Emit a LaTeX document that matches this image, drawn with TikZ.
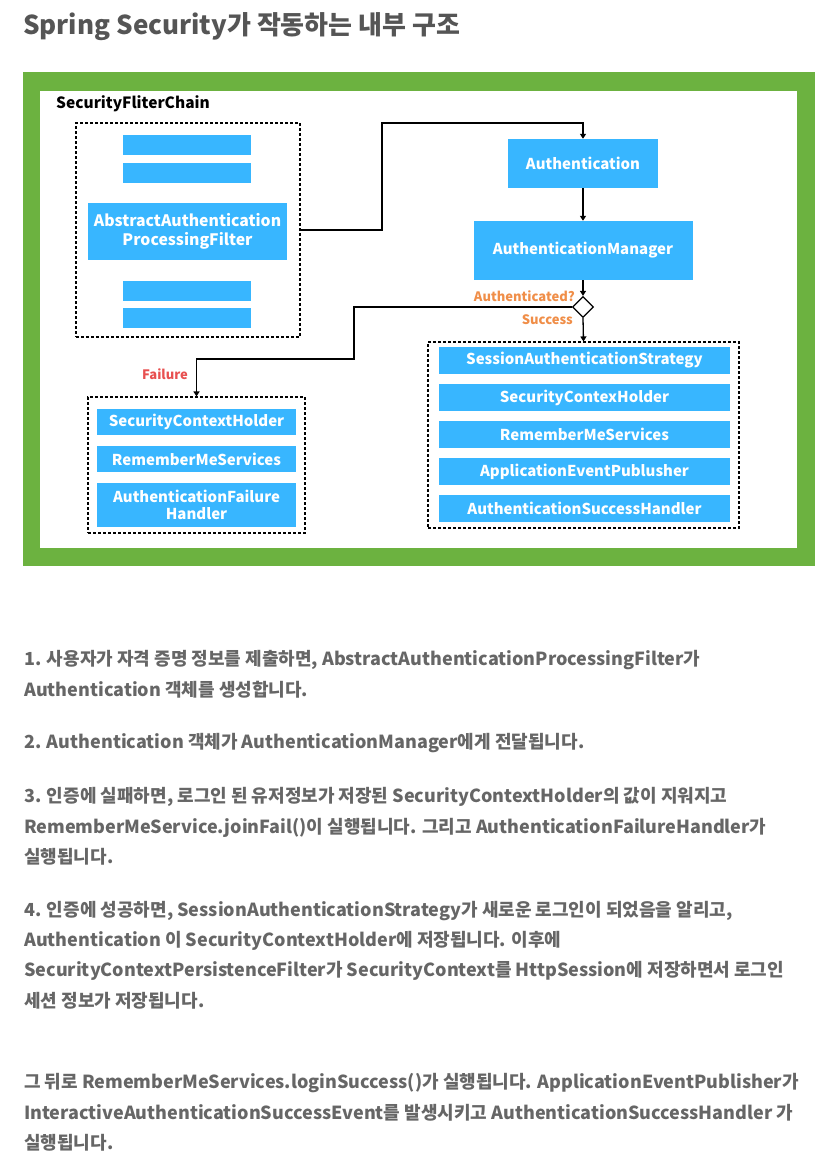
\documentclass[tikz,border=0pt]{standalone}
\usepackage{fontspec}
\setmainfont{Noto Sans CJK KR}
\usetikzlibrary{arrows.meta,shapes.geometric}
\definecolor{springgreen}{RGB}{108,178,64}
\definecolor{boxblue}{RGB}{56,182,255}
\definecolor{labelorange}{RGB}{240,142,72}
\definecolor{labelred}{RGB}{232,80,80}
\definecolor{titlegray}{RGB}{85,85,85}
\definecolor{bodygray}{RGB}{102,102,102}
\tikzset{
  bluebox/.style={fill=boxblue, text=white, inner sep=0pt, align=center,
    font=\bfseries\fontsize{15}{17.5}\selectfont},
  groupbox/.style={draw=black, dashed, dash pattern=on 3pt off 2pt, line width=1.1pt, inner sep=0pt},
  flow/.style={draw=black, line width=1.3pt, -{Triangle[width=6pt,length=5pt]}},
  condlabel/.style={font=\bfseries\fontsize{13}{15}\selectfont, inner sep=0pt},
  bodyline/.style={anchor=west, inner sep=0pt, text=bodygray, font=\bfseries\fontsize{18}{21}\selectfont},
}
\begin{document}
\begin{tikzpicture}[x=1pt,y=-1pt]
\useasboundingbox (0,0) rectangle (822,1163);
\fill[white] (0,0) rectangle (822,1163);

% title
\node[anchor=west, inner sep=0pt, text=titlegray, font=\bfseries\fontsize{26}{31}\selectfont] (title) at (23,27) {Spring Security가 작동하는 내부 구조};

% green frame
\fill[springgreen] (23,72) rectangle (815,566);
\fill[white] (40,91) rectangle (797,548);

\node[anchor=west, inner sep=0pt, font=\bfseries\fontsize{15.5}{18}\selectfont] (chainlabel) at (56,104) {SecurityFliterChain};

% filter chain
\node[groupbox, minimum width=224pt, minimum height=214pt] (chain) at (188,230) {};
\node[bluebox, minimum width=128pt, minimum height=20pt] (f1) at (187,144.5) {};
\node[bluebox, minimum width=128pt, minimum height=20pt] (f2) at (187,173) {};
\node[bluebox, minimum width=199pt, minimum height=57pt, font=\bfseries\fontsize{15.8}{18.5}\selectfont] (aapf) at (187.5,231.5) {AbstractAuthentication\\ProcessingFilter};
\node[bluebox, minimum width=128pt, minimum height=20pt] (f3) at (187,290.5) {};
\node[bluebox, minimum width=128pt, minimum height=20pt] (f4) at (187,318) {};

% authentication path
\node[bluebox, minimum width=150pt, minimum height=49pt] (auth) at (583,163.5) {Authentication};
\node[bluebox, minimum width=219pt, minimum height=59pt] (mgr) at (583,250.5) {AuthenticationManager};
\node[diamond, draw=black, line width=1.3pt, fill=white, minimum width=21pt, minimum height=21pt, inner sep=0pt] (dec) at (583,307) {};
\node[condlabel, text=labelorange, anchor=east] (qlabel) at (575,296) {Authenticated?};
\node[condlabel, text=labelorange, anchor=east] (slabel) at (573,319.5) {Success};
\node[condlabel, text=labelred] (flabel) at (165,374) {Failure};

% success handlers
\node[groupbox, minimum width=311pt, minimum height=186pt] (succ) at (583.5,435) {};
\node[bluebox, minimum width=291pt, minimum height=27pt] (s1) at (584.5,360.5) {SessionAuthenticationStrategy};
\node[bluebox, minimum width=291pt, minimum height=27pt] (s2) at (584.5,397.5) {SecurityContexHolder};
\node[bluebox, minimum width=291pt, minimum height=27pt] (s3) at (584.5,434.5) {RememberMeServices};
\node[bluebox, minimum width=291pt, minimum height=27pt] (s4) at (584.5,471.5) {ApplicationEventPublusher};
\node[bluebox, minimum width=291pt, minimum height=27pt] (s5) at (584.5,508.5) {AuthenticationSuccessHandler};

% failure handlers
\node[groupbox, minimum width=217pt, minimum height=136pt] (fail) at (196.5,465) {};
\node[bluebox, minimum width=199pt, minimum height=26pt] (x1) at (196.5,422) {SecurityContextHolder};
\node[bluebox, minimum width=199pt, minimum height=26pt] (x2) at (196.5,459) {RememberMeServices};
\node[bluebox, minimum width=199pt, minimum height=44pt] (x3) at (196.5,505) {AuthenticationFailure\\Handler};

% connectors
\coordinate (r1) at (382,230);
\coordinate (r2) at (382,123);
\draw[flow] (chain.east |- r1) -- (r1) -- (r2) -| (auth.north);
\draw[flow] (auth.south) -- (mgr.north);
\draw[flow] (mgr.south) -- (dec.north);
\draw[flow] (dec.south) -- (succ.north);
\coordinate (k1) at (354,307);
\coordinate (k2) at (354,359);
\draw[flow] (dec.west) -- (k1) -- (k2) -| (fail.north);

% explanation
\node[bodyline] (p1a) at (24,660) {1. 사용자가 자격 증명 정보를 제출하면, AbstractAuthenticationProcessingFilter가};
\node[bodyline] (p1b) at (24,690) {Authentication 객체를 생성합니다.};
\node[bodyline] (p2a) at (24,743) {2. Authentication 객체가 AuthenticationManager에게 전달됩니다.};
\node[bodyline] (p3a) at (24,797) {3. 인증에 실패하면, 로그인 된 유저정보가 저장된 SecurityContextHolder의 값이 지워지고};
\node[bodyline] (p3b) at (24,828) {RememberMeService.joinFail()이 실행됩니다. 그리고 AuthenticationFailureHandler가};
\node[bodyline] (p3c) at (24,857) {실행됩니다.};
\node[bodyline] (p4a) at (24,911) {4. 인증에 성공하면, SessionAuthenticationStrategy가 새로운 로그인이 되었음을 알리고,};
\node[bodyline] (p4b) at (24,941) {Authentication 이 SecurityContextHolder에 저장됩니다. 이후에};
\node[bodyline] (p4c) at (24,971) {SecurityContextPersistenceFilter가 SecurityContext를 HttpSession에 저장하면서 로그인};
\node[bodyline] (p4d) at (24,1001) {세션 정보가 저장됩니다.};
\node[bodyline] (p5a) at (24,1083) {그 뒤로 RememberMeServices.loginSuccess()가 실행됩니다. ApplicationEventPublisher가};
\node[bodyline] (p5b) at (24,1113) {InteractiveAuthenticationSuccessEvent를 발생시키고 AuthenticationSuccessHandler 가};
\node[bodyline] (p5c) at (24,1143) {실행됩니다.};
\end{tikzpicture}
\end{document}
